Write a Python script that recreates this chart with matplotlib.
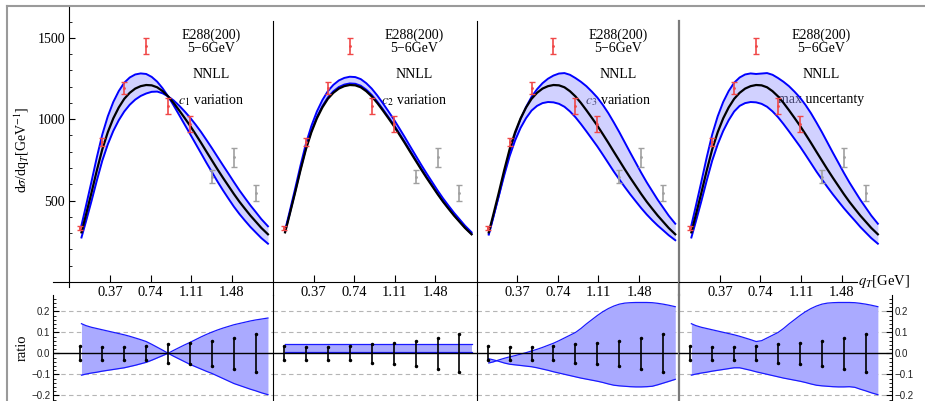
import numpy as np
import matplotlib
matplotlib.use("Agg")
import matplotlib.pyplot as plt
from matplotlib.lines import Line2D
from matplotlib.ticker import MultipleLocator

plt.rcParams['font.family'] = ['Liberation Serif', 'DejaVu Serif']
plt.rcParams['mathtext.fontset'] = 'stix'

# E288(200), 5-6 GeV data
q_data = [0.1, 0.3, 0.5, 0.7, 0.9, 1.1, 1.3, 1.5, 1.7]
sigma_data = [331, 860, 1193, 1451, 1081, 971, 648, 766, 545]
rel_err = [0.034, 0.030, 0.030, 0.034, 0.044, 0.050, 0.060, 0.074, 0.090]
n_fit = 6  # first six points red, rest gray

# NNLL central curve
q = [0.11, 0.15, 0.20, 0.25, 0.30, 0.35, 0.40, 0.45, 0.50, 0.55, 0.60, 0.65,
     0.70, 0.75, 0.80, 0.85, 0.90, 0.95, 1.00, 1.05, 1.10, 1.15, 1.20, 1.25,
     1.30, 1.35, 1.40, 1.45, 1.50, 1.55, 1.60, 1.65, 1.70, 1.75, 1.81]
central = [305, 410, 545, 685, 815, 920, 1005, 1072, 1125, 1162, 1188, 1203,
           1210, 1208, 1196, 1172, 1140, 1100, 1055, 1008, 960, 908, 855, 800,
           746, 692, 640, 590, 540, 493, 450, 408, 370, 332, 293]

# relative band edges (ratio to central) for each panel
c1_a = [0.141, 0.132, 0.124, 0.118, 0.112, 0.106, 0.100, 0.094, 0.088, 0.081, 0.073, 0.065,
        0.056, 0.043, 0.029, 0.015, 0.000, -0.014, -0.027, -0.040, -0.053, -0.064, -0.075, -0.086,
        -0.096, -0.108, -0.120, -0.132, -0.144, -0.153, -0.162, -0.171, -0.179, -0.188, -0.197]
c1_b = [-0.104, -0.099, -0.094, -0.090, -0.085, -0.081, -0.077, -0.073, -0.069, -0.063, -0.057, -0.050,
        -0.043, -0.033, -0.022, -0.011, 0.000, 0.014, 0.027, 0.040, 0.052, 0.065, 0.078, 0.090,
        0.101, 0.111, 0.120, 0.128, 0.136, 0.142, 0.148, 0.154, 0.159, 0.163, 0.168]
c2_a = [0.042, 0.042, 0.042, 0.042, 0.042, 0.042, 0.042, 0.042, 0.042, 0.042, 0.042, 0.042,
        0.042, 0.042, 0.042, 0.042, 0.042, 0.042, 0.042, 0.042, 0.042, 0.042, 0.042, 0.042,
        0.042, 0.042, 0.042, 0.042, 0.042, 0.042, 0.042, 0.042, 0.042, 0.042, 0.042]
c2_b = [0.008, 0.008, 0.008, 0.008, 0.008, 0.008, 0.008, 0.008, 0.008, 0.008, 0.008, 0.008,
        0.008, 0.008, 0.008, 0.008, 0.008, 0.008, 0.008, 0.008, 0.008, 0.008, 0.008, 0.008,
        0.008, 0.008, 0.008, 0.008, 0.008, 0.008, 0.008, 0.008, 0.008, 0.008, 0.008]
c3_a = [-0.026, -0.031, -0.038, -0.046, -0.052, -0.055, -0.058, -0.061, -0.064, -0.069, -0.075, -0.081,
        -0.088, -0.094, -0.100, -0.106, -0.112, -0.118, -0.123, -0.128, -0.133, -0.139, -0.146, -0.152,
        -0.155, -0.157, -0.159, -0.160, -0.160, -0.159, -0.157, -0.150, -0.142, -0.134, -0.124]
c3_b = [-0.046, -0.041, -0.032, -0.024, -0.017, -0.011, -0.004, 0.003, 0.011, 0.019, 0.028, 0.038,
        0.048, 0.060, 0.073, 0.086, 0.099, 0.118, 0.140, 0.160, 0.180, 0.198, 0.213, 0.225,
        0.234, 0.239, 0.241, 0.242, 0.242, 0.242, 0.241, 0.238, 0.234, 0.229, 0.222]
mx_a = [0.141, 0.132, 0.124, 0.118, 0.112, 0.106, 0.100, 0.094, 0.088, 0.081, 0.073, 0.065,
        0.056, 0.060, 0.073, 0.086, 0.099, 0.118, 0.140, 0.160, 0.180, 0.198, 0.213, 0.225,
        0.234, 0.239, 0.241, 0.242, 0.242, 0.242, 0.241, 0.238, 0.234, 0.229, 0.222]
mx_b = [-0.104, -0.099, -0.094, -0.090, -0.085, -0.081, -0.077, -0.073, -0.069, -0.069, -0.075, -0.081,
        -0.088, -0.094, -0.100, -0.106, -0.112, -0.118, -0.123, -0.128, -0.133, -0.139, -0.146, -0.152,
        -0.155, -0.157, -0.159, -0.160, -0.160, -0.159, -0.162, -0.171, -0.179, -0.188, -0.197]

bands = [(c1_a, c1_b), (c2_a, c2_b), (c3_a, c3_b), (mx_a, mx_b)]
labels = ['$c_1$ variation', '$c_2$ variation', '$c_3$ variation', 'max uncertanty']
xticks = [0.37, 0.74, 1.11, 1.48]
xticklabels = ['0.37', '0.74', '1.11', '1.48']
rticks = [-0.2, -0.1, 0.0, 0.1, 0.2]
rticklabels = ['\u22120.2', '\u22120.1', '0.0', '0.1', '0.2']

# layout in pixels
W, H = 925, 401
pxq = 109.7                       # px per GeV
origins = [69.4, 273.0, 476.7, 679.3]
lefts = [53.0, 273.0, 476.7, 679.3]
rights = [273.0, 476.7, 679.3, 892.0]
top_ylim = ((282 - 295) / 0.1628, (282 - 7) / 0.1628)
rat_ylim = ((353.3 - 401) / 210, (353.3 - 295) / 210)


def box(x0, x1, y0, y1):
    return [x0 / W, 1 - y1 / H, (x1 - x0) / W, (y1 - y0) / H]


fig = plt.figure(figsize=(W / 100, H / 100), dpi=100)

q_arr = np.array(q)
cen = np.array(central)
qd = np.array(q_data)
sd = np.array(sigma_data)
re = np.array(rel_err)

for i in range(4):
    xlim = ((lefts[i] - origins[i]) / pxq, (rights[i] - origins[i]) / pxq)
    a, b = np.array(bands[i][0]), np.array(bands[i][1])

    # ---------- top panel ----------
    ax = fig.add_axes(box(lefts[i], rights[i], 7, 295), zorder=3)
    ax.patch.set_alpha(0)
    ax.set_xlim(*xlim)
    ax.set_ylim(*top_ylim)
    ax.spines['top'].set_visible(False)
    ax.spines['right'].set_visible(False)
    ax.spines['bottom'].set_position(('data', 0))
    ax.spines['left'].set_position(('data', 0))
    if i == 0:
        ax.spines['left'].set_bounds(-30, top_ylim[1])
        ax.set_yticks([500, 1000, 1500])
        ax.set_yticklabels(['500', '1000', '1500'])
        ax.yaxis.set_minor_locator(MultipleLocator(100))
        ax.tick_params(axis='y', which='major', direction='in', length=4, labelsize=10, pad=3)
        ax.tick_params(axis='y', which='minor', direction='in', length=2.5)
    else:
        ax.spines['left'].set_bounds(top_ylim[0], 1603)
        ax.set_yticks([])
    if i == 3:
        ax.spines['left'].set_color('#7a7a7a')
        ax.spines['left'].set_linewidth(1.6)
        ax.spines['bottom'].set_bounds(0, 1.62)
        ax.text(1.63, 0, '$q_T$[GeV]', fontsize=10.5, ha='left', va='center')
    ax.set_xticks(xticks)
    ax.set_xticklabels(xticklabels)
    ax.tick_params(axis='x', direction='in', length=5, labelsize=10.5, pad=3)
    for lbl in ax.get_xticklabels():
        lbl.set_bbox(dict(facecolor='white', edgecolor='none', pad=0.3))

    lo, hi = cen * (1 + a), cen * (1 + b)
    ax.fill_between(q_arr, lo, hi, color='#9999ff', alpha=0.45, lw=0, zorder=2)
    ax.plot(q_arr, lo, color='#0000ff', lw=1.4, zorder=3)
    ax.plot(q_arr, hi, color='#0000ff', lw=1.4, zorder=3)
    ax.plot(q_arr, cen, color='black', lw=1.6, zorder=4)
    ax.errorbar(qd[:n_fit], sd[:n_fit], yerr=sd[:n_fit] * re[:n_fit], fmt='.', ms=2,
                color='#f04848', elinewidth=1.2, capsize=2.2, capthick=1, zorder=5)
    ax.errorbar(qd[n_fit:], sd[n_fit:], yerr=sd[n_fit:] * re[n_fit:], fmt='.', ms=2,
                color='#a0a0a0', elinewidth=1.2, capsize=2.2, capthick=1, zorder=5)

    ax.text(1.29, 1518, 'E288(200)', fontsize=10, ha='center', va='center', zorder=1)
    ax.text(1.29, 1436, '5\u22126GeV', fontsize=10, ha='center', va='center', zorder=1)
    ax.text(1.29, 1272, 'NNLL', fontsize=10, ha='center', va='center', zorder=1)
    ax.text(1.29, 1119, labels[i], fontsize=10, ha='center', va='center', zorder=1)

    # ---------- ratio panel ----------
    ra = fig.add_axes(box(lefts[i], rights[i], 295, 401), zorder=1)
    ra.set_xlim(*xlim)
    ra.set_ylim(*rat_ylim)
    ra.spines['top'].set_visible(False)
    ra.spines['bottom'].set_visible(False)
    ra.set_xticks([])
    for yv in [-0.2, -0.1, 0.1, 0.2]:
        ra.axhline(yv, color='#b5b5b5', lw=0.8, ls=(0, (4, 3)), zorder=0)
    ra.axhline(0, color='black', lw=1.0, zorder=3)
    if i == 0:
        ra.spines['right'].set_visible(False)
        ra.set_yticks(rticks)
        ra.set_yticklabels(rticklabels, family=['Liberation Sans', 'DejaVu Sans'], color='#222222')
        ra.yaxis.set_minor_locator(MultipleLocator(0.02))
        ra.tick_params(axis='y', which='major', direction='in', length=4, labelsize=7, pad=2)
        ra.tick_params(axis='y', which='minor', direction='in', length=2)
    elif i == 3:
        ra.spines['left'].set_color('#7a7a7a')
        ra.spines['left'].set_linewidth(1.6)
        ra.yaxis.tick_right()
        ra.set_yticks(rticks)
        ra.set_yticklabels(rticklabels, family=['Liberation Sans', 'DejaVu Sans'], color='#222222')
        ra.yaxis.set_minor_locator(MultipleLocator(0.02))
        ra.tick_params(axis='y', which='major', direction='in', length=4, labelsize=7, pad=2)
        ra.tick_params(axis='y', which='minor', direction='in', length=2)
    else:
        ra.spines['right'].set_visible(False)
        ra.set_yticks([])

    ra.fill_between(q_arr, a, b, color='#aaaaff', lw=0, zorder=1)
    ra.plot(q_arr, a, color='#1a1aff', lw=0.9, zorder=2)
    ra.plot(q_arr, b, color='#1a1aff', lw=0.9, zorder=2)
    ra.vlines(qd, -re, re, color='black', lw=1.2, zorder=4)
    ra.plot(qd, re, '.', color='black', ms=3, zorder=4)
    ra.plot(qd, -re, '.', color='black', ms=3, zorder=4)

fig.text(22 / W, 1 - 150 / H, r'd$\sigma$/dq$_T$[GeV$^{-1}$]', rotation=90,
         ha='center', va='center', fontsize=10)
fig.text(22 / W, 1 - 348 / H, 'ratio', rotation=90, ha='center', va='center', fontsize=10.5)

# outer frame
fig.add_artist(Line2D([7 / W, 1], [1 - 6 / H, 1 - 6 / H], color='#9a9a9a', lw=1.5))
fig.add_artist(Line2D([7 / W, 7 / W], [0, 1 - 6 / H], color='#9a9a9a', lw=1.5))

fig.savefig('out.png', dpi=100)
